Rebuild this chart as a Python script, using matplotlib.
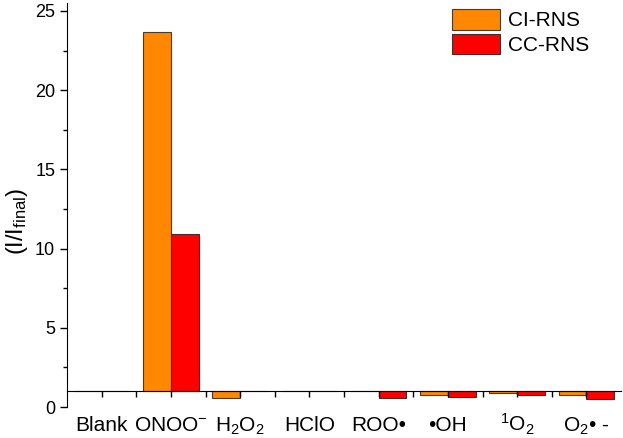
import matplotlib
matplotlib.use("Agg")
import matplotlib.pyplot as plt
import numpy as np

plt.rcParams['font.family'] = ['Liberation Sans', 'DejaVu Sans']
plt.rcParams['mathtext.fontset'] = 'custom'
plt.rcParams['mathtext.rm'] = 'Liberation Sans'
plt.rcParams['mathtext.default'] = 'regular'

# dati
specie = ['Blank', 'ONOO$^{-}$', 'H$_2$O$_2$', 'HClO', 'ROO•', '•OH', '$^1$O$_2$', 'O$_2$• -']
ci_rns = [1.0, 23.7, 0.58, 0.98, 1.0, 0.77, 0.87, 0.77]
cc_rns = [1.0, 10.9, 0.98, 1.02, 0.54, 0.62, 0.77, 0.50]
base = 1.0

fig = plt.figure(figsize=(6.23, 4.38), dpi=100)
ax = fig.add_axes([67/623, 1 - 407/438, (621 - 67)/623, (407 - 3)/438])

x = np.arange(len(specie))
w = 0.4
ax.bar(x - w/2, np.array(ci_rns) - base, w, bottom=base, color='#FF8800',
       edgecolor='#4a3a2a', linewidth=0.8, label='CI-RNS')
ax.bar(x + w/2, np.array(cc_rns) - base, w, bottom=base, color='#FF0000',
       edgecolor='#4a2a2a', linewidth=0.8, label='CC-RNS')

ax.set_xlim(-0.5, 7.5)
ax.set_ylim(0, 25.5)

ax.spines['top'].set_visible(False)
ax.spines['right'].set_visible(False)
ax.spines['bottom'].set_position(('data', base))

ax.set_xticks(x)
ax.set_xticklabels(specie, fontsize=15)
ax.set_xticks(x[:-1] + 0.5, minor=True)
ax.set_yticks([0, 5, 10, 15, 20, 25])
ax.set_yticks(np.arange(2.5, 25, 5), minor=True)
ax.tick_params(axis='y', which='major', direction='out', length=5, width=1, labelsize=13)
ax.tick_params(axis='y', which='minor', direction='out', length=3, width=1)
ax.tick_params(axis='x', which='both', direction='out', length=4, width=1)
ax.tick_params(axis='x', which='major', pad=25)
for lab in ax.get_xticklabels():
    lab.set_va('baseline')

ax.set_ylabel('(I/I$_{final}$)', fontsize=17)
ax.yaxis.set_label_coords(-0.066, 0.46)

fig.legend(loc='upper left', bbox_to_anchor=(452/623, 1 - 9/438), frameon=False,
           borderpad=0, borderaxespad=0, fontsize=15, handlelength=2.3,
           handleheight=1.15, labelspacing=0.15, handletextpad=0.38)

fig.savefig('out.png', dpi=100)
